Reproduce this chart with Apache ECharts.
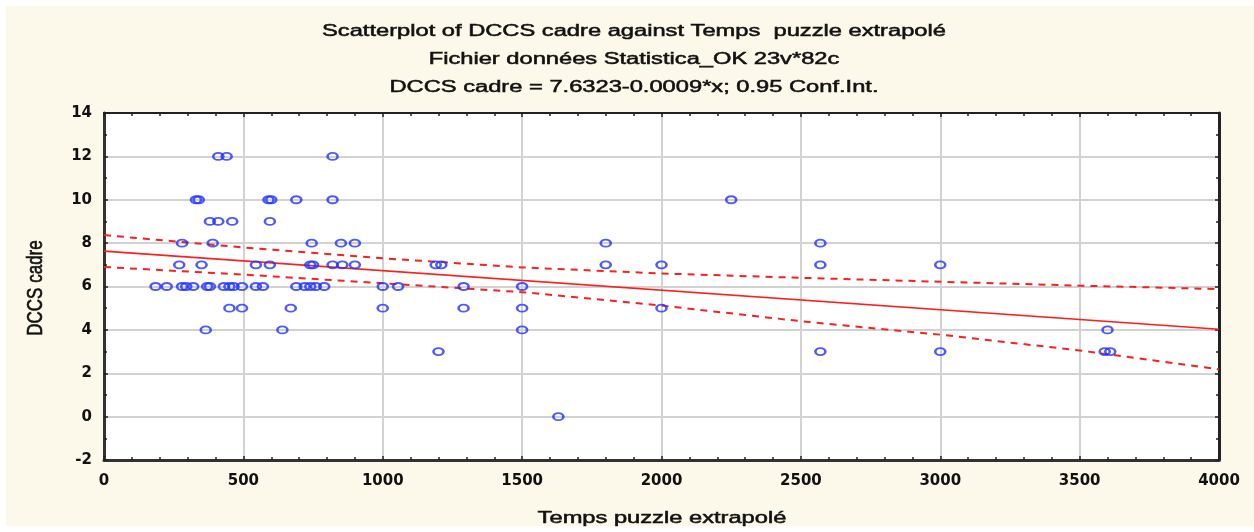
<!DOCTYPE html>
<html><head><meta charset="utf-8">
<script src="https://cdn.jsdelivr.net/npm/echarts@6/dist/echarts.min.js"></script>
<style>html,body{margin:0;padding:0;background:#ffffff}#c{width:1254px;height:532px}</style>
</head><body><div id="c"></div>
<script>
// ---- text ----
const titleLines = [
  'Scatterplot of DCCS cadre against Temps  puzzle extrapolé',
  'Fichier données Statistica_OK 23v*82c',
  'DCCS cadre = 7.6323-0.0009*x; 0.95 Conf.Int.'
];
const xAxisName = 'Temps puzzle extrapolé';
const yAxisName = 'DCCS cadre';

// ---- axis ranges / ticks ----
const xMin = 0, xMax = 4000, xStep = 500;
const yMin = -2, yMax = 14, yStep = 2;

const tempsPuzzle = [
  410, 440, 820,
  330, 340, 590, 600, 690, 820, 2250,
  380, 410, 460, 595,
  280, 390, 745, 850, 900, 1800, 2570,
  270, 350, 545, 595, 740, 750, 820, 855, 900, 1190, 1210, 1800, 2000, 2570, 3000,
  185, 225, 280, 295, 320, 370, 380, 430, 450, 465, 495, 545, 570, 690, 720, 740, 760, 790, 1000, 1055, 1290, 1500,
  450, 495, 670, 1000, 1290, 1500, 2000,
  365, 640, 1500, 3600,
  1200, 2570, 3000, 3590, 3610,
  1630
];
const dccsCadre = [
  12, 12, 12,
  10, 10, 10, 10, 10, 10, 10,
  9, 9, 9, 9,
  8, 8, 8, 8, 8, 8, 8,
  7, 7, 7, 7, 7, 7, 7, 7, 7, 7, 7, 7, 7, 7, 7,
  6, 6, 6, 6, 6, 6, 6, 6, 6, 6, 6, 6, 6, 6, 6, 6, 6, 6, 6, 6, 6, 6,
  5, 5, 5, 5, 5, 5, 5,
  4, 4, 4, 4,
  3, 3, 3, 3, 3,
  0
];

// ---- fitted line and 0.95 confidence band ----
const fitX = [0, 4000];
const fitY = [7.63, 4.03];
const bandX = [0, 500, 1000, 1500, 2000, 2500, 3000, 3500, 4000];
const bandUpper = [8.37, 7.80, 7.30, 6.88, 6.60, 6.40, 6.22, 6.04, 5.88];
const bandLower = [6.90, 6.55, 6.15, 5.74, 5.12, 4.40, 3.78, 3.05, 2.18];

const zip = (a, b) => a.map((v, i) => [v, b[i]]);

const chart = echarts.init(document.getElementById('c'), null, {renderer: 'canvas'});
const RED = '#ff1e1e';
const BLUE = '#2233ff';
const TXT = '#111111';
const FONT = '"Liberation Sans", Arial, sans-serif';
const SX = 1.48;

const tickFont = {fontFamily: '"DejaVu Sans", sans-serif', fontWeight: 'bold', fontSize: 15, color: TXT,
  formatter: v => String(v)};
const txt = (s, size) => ({text: s, fontFamily: FONT, fontSize: size, fill: TXT, stroke: TXT, lineWidth: 0.5,
  align: 'center', verticalAlign: 'middle'});

const option = {
  animation: false,
  backgroundColor: '#ffffff',
  graphic: [
    {type: 'rect', z: -10, silent: true, shape: {x: 6, y: 6, width: 1248, height: 520}, style: {fill: '#fcf8ea'}},
    {type: 'text', x: 634, y: 32, scaleX: SX, style: txt(titleLines[0], 16)},
    {type: 'text', x: 634, y: 60, scaleX: SX, style: txt(titleLines[1], 16)},
    {type: 'text', x: 634, y: 88, scaleX: SX, style: txt(titleLines[2], 16)},
    {type: 'text', x: 662, y: 519, scaleX: SX, style: txt(xAxisName, 16)},
    {type: 'text', x: 36, y: 288, rotation: Math.PI / 2, scaleY: 1.25, style: Object.assign(txt(yAxisName, 17), {lineWidth: 0.5})}
  ],
  grid: {left: 104, right: 35, top: 113, bottom: 72, show: true, backgroundColor: '#ffffff', borderColor: '#222', borderWidth: 2},
  xAxis: [
    {type: 'value', min: xMin, max: xMax, interval: xStep, position: 'bottom',
     axisLine: {show: true, onZero: false, lineStyle: {color: '#333', width: 3}},
     axisTick: {show: true, inside: true, length: 4, lineStyle: {color: '#222', width: 1.5}},
     minorTick: {show: true, splitNumber: 5, length: 3, lineStyle: {color: '#222', width: 1.5}},
     axisLabel: Object.assign({margin: 14}, tickFont),
     splitLine: {show: true, lineStyle: {color: '#d2d2d2', width: 2}}},
    {type: 'value', min: xMin, max: xMax, interval: xStep, position: 'top',
     axisLine: {show: true, onZero: false, lineStyle: {color: '#222', width: 2}},
     axisTick: {show: true, inside: true, length: 4, lineStyle: {color: '#222', width: 1.5}},
     minorTick: {show: true, splitNumber: 5, length: 3, lineStyle: {color: '#222', width: 1.5}},
     axisLabel: {show: false}, splitLine: {show: false}}
  ],
  yAxis: [
    {type: 'value', min: yMin, max: yMax, interval: yStep, position: 'left',
     axisLine: {show: true, onZero: false, lineStyle: {color: '#333', width: 3}},
     axisTick: {show: true, inside: true, length: 4, lineStyle: {color: '#222', width: 1.5}},
     minorTick: {show: true, splitNumber: 2, length: 3, lineStyle: {color: '#222', width: 1.5}},
     axisLabel: Object.assign({margin: 12}, tickFont),
     splitLine: {show: true, lineStyle: {color: '#d2d2d2', width: 2}}},
    {type: 'value', min: yMin, max: yMax, interval: yStep, position: 'right',
     axisLine: {show: true, onZero: false, lineStyle: {color: '#222', width: 3}},
     axisTick: {show: true, inside: true, length: 4, lineStyle: {color: '#222', width: 1.5}},
     minorTick: {show: true, splitNumber: 2, length: 3, lineStyle: {color: '#222', width: 1.5}},
     axisLabel: {show: false}, splitLine: {show: false}}
  ],
  series: [
    {type: 'line', name: 'upper', data: zip(bandX, bandUpper), showSymbol: false, silent: true, z: 3,
     lineStyle: {color: RED, width: 2, type: [7, 6]}},
    {type: 'line', name: 'lower', data: zip(bandX, bandLower), showSymbol: false, silent: true, z: 3,
     lineStyle: {color: RED, width: 2, type: [7, 6]}},
    {type: 'line', name: 'fit', data: zip(fitX, fitY), showSymbol: false, silent: true, z: 3,
     lineStyle: {color: RED, width: 1.6}},
    {type: 'scatter', name: 'DCCS cadre', data: zip(tempsPuzzle, dccsCadre), z: 4,
     symbol: 'circle', symbolSize: [10, 7],
     itemStyle: {color: 'rgba(255,255,255,0)', borderColor: BLUE, borderWidth: 2.2}}
  ]
};
chart.setOption(option);
</script>
</body></html>
